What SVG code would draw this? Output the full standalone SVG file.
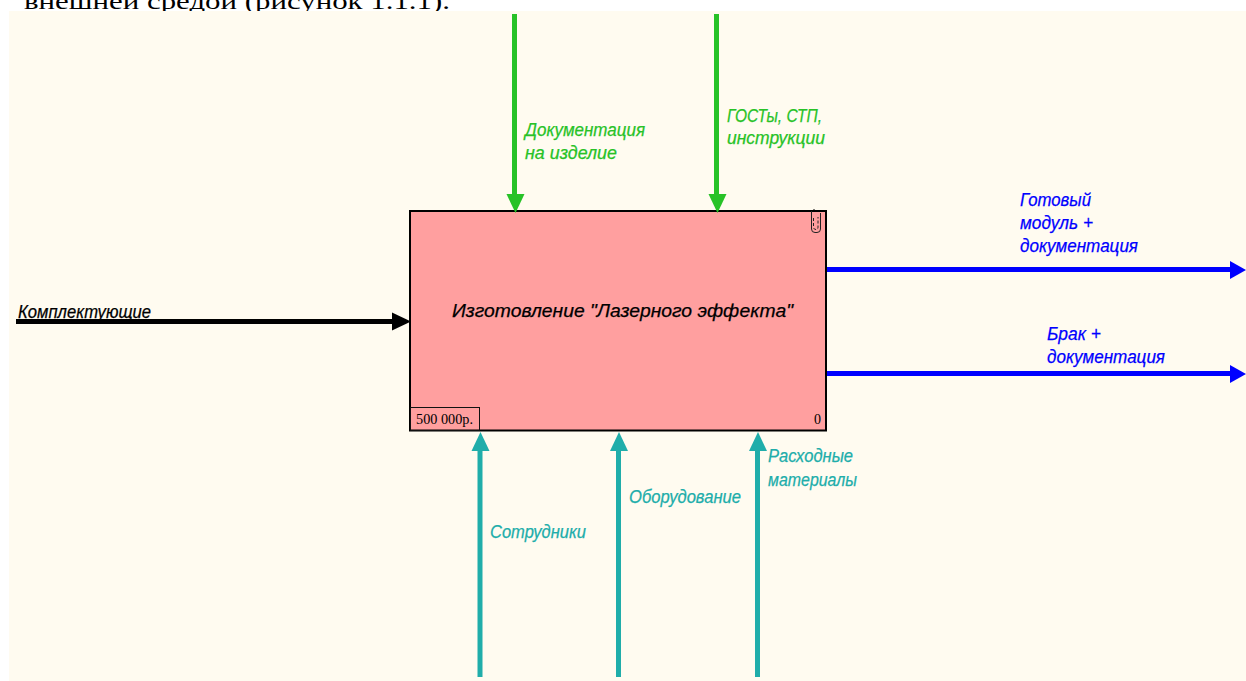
<svg xmlns="http://www.w3.org/2000/svg" width="1246" height="681" viewBox="0 0 1246 681">
<style>
.l{font-family:"Liberation Sans",sans-serif;font-style:italic;font-size:19px;stroke-width:.25px}
.g{fill:#27c227;stroke:#27c227}.b{fill:#0000ff;stroke:#0000ff}.t{fill:#20adaa;stroke:#20adaa}.k{fill:#000;stroke:#000}
.s{font-family:"Liberation Serif",serif;font-size:14px;fill:#000}
.w{fill:none;stroke-width:5}
</style>
<defs>
<marker id="ag" markerUnits="userSpaceOnUse" markerWidth="20" markerHeight="20" refX="9" refY="10" orient="auto" overflow="visible"><path d="M0 0L19 9L0 18Z" fill="#27c227"/></marker>
<marker id="ab" markerUnits="userSpaceOnUse" markerWidth="20" markerHeight="20" refX="9" refY="8.5" orient="auto" overflow="visible"><path d="M0 0L16 9L0 18Z" fill="#0000ff"/></marker>
<marker id="at" markerUnits="userSpaceOnUse" markerWidth="20" markerHeight="20" refX="9" refY="8.5" orient="auto" overflow="visible"><path d="M0 0L19 9L0 18Z" fill="#20adaa"/></marker>
<marker id="ak" markerUnits="userSpaceOnUse" markerWidth="20" markerHeight="20" refX="9" refY="9" orient="auto" overflow="visible"><path d="M0 0L19 9L0 18Z" fill="#000"/></marker>
</defs>
<rect width="1246" height="681" fill="#fff"/>
<text x="24" y="8.5" font-family="Liberation Serif,serif" font-size="24" fill="#000" textLength="426" lengthAdjust="spacingAndGlyphs">внешней средой (рисунок 1.1.1).</text>
<rect x="9" y="11" width="1237" height="670" fill="#fffbf0"/>
<g id="node-main">
<rect x="410" y="211" width="416" height="219.5" fill="#ff9f9f" stroke="#000" stroke-width="2"/>
<rect x="410.5" y="407.5" width="69" height="23" fill="none" stroke="#111" stroke-width="1"/>
<text class="l k" x="452" y="317" textLength="341" lengthAdjust="spacingAndGlyphs">Изготовление "Лазерного эффекта"</text>
<text class="s" x="416" y="424" textLength="57" lengthAdjust="spacingAndGlyphs">500 000р.</text>
<text class="s" x="814" y="424">0</text>
<path d="M811.5 211V229Q811.5 232.5 815 232.5H817Q820.5 232.5 820.5 229V213" fill="none" stroke="#222" stroke-width="1"/>
<path d="M814 209V212" fill="none" stroke="#000" stroke-width="1"/>
<path d="M813.5 218V227Q813.5 229.5 816 229.5Q818 229.5 818 227V217" fill="none" stroke="#222" stroke-width="1" stroke-dasharray="3 2"/>
</g>
<g id="connectors">
<path class="w" stroke="#27c227" d="M514.5 14V203" marker-end="url(#ag)"/>
<path class="w" stroke="#27c227" d="M716.5 14V203" marker-end="url(#ag)"/>
<path class="w" stroke="#0000ff" d="M827 269.5H1239" marker-end="url(#ab)"/>
<path class="w" stroke="#0000ff" d="M827 373.5H1239" marker-end="url(#ab)"/>
<path class="w" stroke="#000" stroke-width="4" d="M16 321.5H401" marker-end="url(#ak)"/>
<path class="w" stroke="#20adaa" d="M480 677V442" marker-end="url(#at)"/>
<path class="w" stroke="#20adaa" d="M618.5 677V442" marker-end="url(#at)"/>
<path class="w" stroke="#20adaa" d="M757.5 677V442" marker-end="url(#at)"/>
</g>
<g id="labels">
<text class="l g" x="525" y="136" textLength="120" lengthAdjust="spacingAndGlyphs">Документация</text>
<text class="l g" x="525" y="159" textLength="92" lengthAdjust="spacingAndGlyphs">на изделие</text>
<text class="l g" x="727" y="122" textLength="95" lengthAdjust="spacingAndGlyphs">ГОСТы, СТП,</text>
<text class="l g" x="727" y="144" textLength="98" lengthAdjust="spacingAndGlyphs">инструкции</text>
<text class="l b" x="1020" y="206" textLength="71" lengthAdjust="spacingAndGlyphs">Готовый</text>
<text class="l b" x="1020" y="229" textLength="73" lengthAdjust="spacingAndGlyphs">модуль +</text>
<text class="l b" x="1020" y="252" textLength="118" lengthAdjust="spacingAndGlyphs">документация</text>
<text class="l b" x="1047" y="340" textLength="54" lengthAdjust="spacingAndGlyphs">Брак +</text>
<text class="l b" x="1047" y="363" textLength="118" lengthAdjust="spacingAndGlyphs">документация</text>
<text class="l k" x="18" y="318" textLength="133" lengthAdjust="spacingAndGlyphs">Комплектующие</text>
<text class="l t" x="490" y="538" textLength="96" lengthAdjust="spacingAndGlyphs">Сотрудники</text>
<text class="l t" x="629" y="503" textLength="112" lengthAdjust="spacingAndGlyphs">Оборудование</text>
<text class="l t" x="768" y="462" textLength="85" lengthAdjust="spacingAndGlyphs">Расходные</text>
<text class="l t" x="768" y="486" textLength="89" lengthAdjust="spacingAndGlyphs">материалы</text>
</g>
</svg>
